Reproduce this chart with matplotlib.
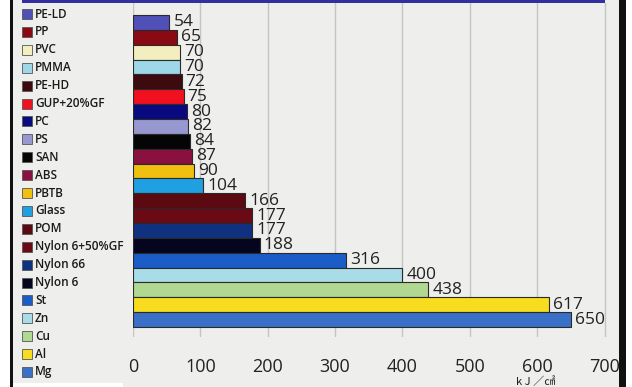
import matplotlib
matplotlib.use("Agg")
import matplotlib.pyplot as plt
from matplotlib.patches import Rectangle

materials = ["PE-LD", "PP", "PVC", "PMMA", "PE-HD", "GUP+20%GF", "PC", "PS", "SAN",
             "ABS", "PBTB", "Glass", "POM", "Nylon 6+50%GF", "Nylon 66", "Nylon 6",
             "St", "Zn", "Cu", "Al", "Mg"]
values = [54, 65, 70, 70, 72, 75, 80, 82, 84, 87, 90, 104, 166, 177, 177, 188,
          316, 400, 438, 617, 650]
colors = ["#5050b8", "#8a0a14", "#f3eec0", "#9ed8e8", "#3d0a10", "#f01020", "#0a0a80",
          "#9898d0", "#050505", "#8a1040", "#f0c010", "#20a0e0", "#5a0a10", "#6a0a14",
          "#103080", "#050520", "#1a5cc8", "#a8dce8", "#b0d890", "#f8dc20", "#3a70c8"]
xticks = [0, 100, 200, 300, 400, 500, 600, 700]
unit_label = "k J ／㎠"

W, H = 632, 387
fig = plt.figure(figsize=(W / 100, H / 100), dpi=100)
fig.patch.set_facecolor("#eeeeec")

# axes placement (pixels)
ax_left, ax_right, ax_top, ax_bot = 133, 618, 3, 337
ax = fig.add_axes([ax_left / W, 1 - ax_bot / H, (ax_right - ax_left) / W, (ax_bot - ax_top) / H])
ax.set_facecolor("#eeeeec")

n = len(values)
ypos = list(range(n))
bars = ax.barh(ypos, values, height=1.0, color=colors, edgecolor="#2a2a2a", linewidth=0.8, zorder=3)
ax.bar_label(bars, labels=[str(v) for v in values], padding=3, fontsize=12.5,
             color="#222222", family="Open Sans", zorder=4)

pitch = (327 - 15) / n
ax.set_ylim(n - 0.5 + (ax_bot - 327) / pitch, -0.5 - (15 - ax_top) / pitch)
ax.set_xlim(0, 720)
ax.set_xticks(xticks)
ax.set_xticklabels([str(t) for t in xticks], family="Open Sans", fontsize=13, color="#222222")
ax.tick_params(axis="x", length=0, pad=15)
ax.set_yticks([])
for s in ax.spines.values():
    s.set_visible(False)
ax.grid(axis="x", color="#c4c4c4", linewidth=1.0, zorder=0)
ax.set_axisbelow(True)

fig.text(536 / W, 1 - 382 / H, unit_label, ha="center", va="center", fontsize=8,
         color="#222222", family=["Noto Sans CJK JP", "DejaVu Sans"])

# legend column
y0, dy = 14, (372 - 14) / (n - 1)
for i, (m, c) in enumerate(zip(materials, colors)):
    yc = y0 + i * dy
    fig.add_artist(Rectangle((22 / W, 1 - (yc + 5) / H), 10 / W, 10 / H, transform=fig.transFigure,
                             facecolor=c, edgecolor="#555555", linewidth=0.6))
    fig.text(35 / W, 1 - yc / H, m, ha="left", va="center", fontsize=8.5,
             fontweight="semibold", color="#1a1a1a", family="Open Sans")

# scan frame decorations
def frame_rect(x0, y0_, x1, y1, color, z=20):
    fig.add_artist(Rectangle((x0 / W, 1 - y1 / H), (x1 - x0) / W, (y1 - y0_) / H,
                             transform=fig.transFigure, facecolor=color, edgecolor="none", zorder=z))

frame_rect(0, 0, 10, H, "white")
frame_rect(10, 0, 13, H, "#111111")
frame_rect(22, 0, 605, 3, "#3030a0")
frame_rect(619, 0, 626, H, "#111111")
frame_rect(626, 0, W, H, "white")
frame_rect(13, 383, 123, H, "white")

fig.savefig("out.png", dpi=100, facecolor=fig.get_facecolor())
